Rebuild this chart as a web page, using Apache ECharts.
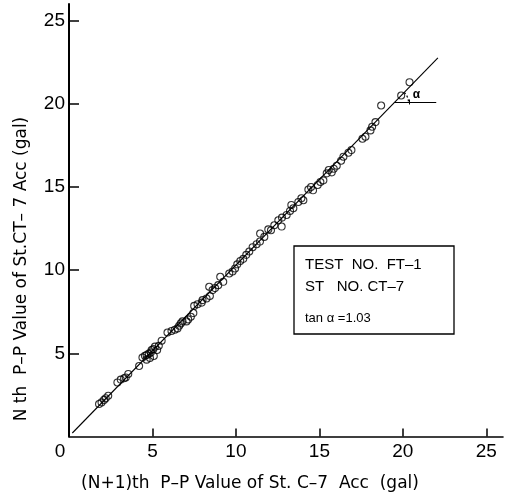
<!DOCTYPE html>
<html>
<head>
<meta charset="utf-8">
<script src="https://cdn.jsdelivr.net/npm/echarts@6/dist/echarts.min.js"></script>
<style>html,body{margin:0;padding:0;background:#fff}#c{width:508px;height:499px}</style>
</head>
<body>
<div id="c"></div>
<script>
// (N+1)th P-P value (x) vs Nth P-P value (y), gal
const pointsX = [1.8,1.95,2.1,2.2,2.35,2.9,3.1,3.3,3.4,3.55,4.2,4.4,4.55,4.65,4.78,4.9,4.95,5.05,5.15,4.85,4.65,5.08,5.28,5.38,5.55,5.9,6.14,6.34,6.5,6.6,6.7,6.8,7.04,7.14,7.3,7.45,7.5,7.7,7.95,8.0,8.24,8.44,8.4,8.6,8.75,8.94,9.06,9.24,9.6,9.8,9.95,10.08,10.26,10.44,10.62,10.8,11.0,11.24,11.44,11.45,11.7,11.94,12.1,12.3,12.54,12.74,12.76,13.04,13.24,13.32,13.44,13.74,13.92,14.04,14.34,14.5,14.62,14.9,15.06,15.24,15.44,15.56,15.74,15.86,16.04,16.3,16.44,16.74,16.92,17.58,17.76,18.06,18.16,18.36,18.7,19.9,20.4];
const pointsY = [1.95,2.05,2.2,2.3,2.45,3.25,3.42,3.5,3.55,3.76,4.24,4.75,4.85,4.9,4.98,5.05,5.2,5.25,5.4,4.72,4.62,4.84,5.2,5.45,5.76,6.25,6.34,6.42,6.5,6.66,6.8,6.92,6.92,7.04,7.2,7.42,7.85,7.95,8.05,8.2,8.3,8.45,9.0,8.8,8.92,9.1,9.6,9.3,9.8,9.92,10.1,10.35,10.55,10.68,10.92,11.12,11.38,11.56,11.72,12.2,12.0,12.45,12.4,12.7,13.0,12.62,13.16,13.32,13.56,13.92,13.72,14.1,14.32,14.2,14.85,15.0,14.8,15.12,15.3,15.4,15.82,16.02,15.88,16.1,16.28,16.58,16.82,17.06,17.22,17.9,18.02,18.4,18.62,18.9,19.9,20.5,21.3];
// fitted line (tan a = 1.03) and horizontal reference line
const fitLineX = [0.2, 22.1];
const fitLineY = [0.21, 22.76];
const refLineX = [19.5, 22.0];
const refLineY = [20.08, 20.08];
const xLabelValues = [0, 5, 10, 15, 20, 25];
const xTickValues = [5, 10, 15, 20, 25];
const yLabelValues = [5, 10, 15, 20, 25];
const yTickValues = [5, 10, 15, 20, 25];
const xTitle = '(N+1)th  P\u2013P Value of St. C\u20137  Acc  (gal)';
const yTitle = 'N th  P\u2013P Value of St.CT\u2013 7 Acc (gal)';
const boxLines = ['TEST  NO.  FT\u20131', 'ST   NO. CT\u20137', 'tan \u03b1 =1.03'];

const font = 'Liberation Sans, Arial, sans-serif';
const titleFont = 'DejaVu Sans, sans-serif';
const chart = echarts.init(document.getElementById('c'));
const pts = pointsX.map((x, i) => [x, pointsY[i]]);
const fit = fitLineX.map((x, i) => [x, fitLineY[i]]);
const ref = refLineX.map((x, i) => [x, refLineY[i]]);

chart.setOption({
  animation: false,
  backgroundColor: '#fff',
  grid: {left: 69, right: 5, top: 4, bottom: 62.5, containLabel: false},
  xAxis: {
    type: 'value', min: 0, max: 26,
    splitLine: {show: false},
    axisLine: {lineStyle: {color: '#000', width: 1.6}},
    axisTick: {inside: true, length: 8, customValues: xTickValues, lineStyle: {color: '#000', width: 1.5}},
    axisLabel: {
      customValues: xLabelValues, margin: 6, color: '#000', fontFamily: font, fontSize: 19,
      formatter: v => v === 0 ? '{o|0}' : String(v),
      rich: {o: {padding: [0, 18, 0, 0], fontSize: 19, fontFamily: font, color: '#000'}}
    }
  },
  yAxis: {
    type: 'value', min: 0, max: 26,
    splitLine: {show: false},
    axisLine: {lineStyle: {color: '#000', width: 2}},
    axisTick: {inside: true, length: 10, customValues: yTickValues, lineStyle: {color: '#000', width: 1.5}},
    axisLabel: {customValues: yLabelValues, margin: 4, color: '#000', fontFamily: font, fontSize: 19}
  },
  series: [
    {type: 'line', data: fit, symbol: 'none', lineStyle: {color: '#000', width: 1.1}, silent: true, z: 2},
    {type: 'line', data: ref, symbol: 'none', lineStyle: {color: '#000', width: 1.1}, silent: true, z: 2},
    {
      type: 'custom', data: [ref[0]], silent: true, z: 3,
      renderItem: function (params, api) {
        const c = api.coord([api.value(0), api.value(1)]);
        const ang = Math.atan(1.03);
        return {type: 'group', children: [
          {type: 'arc', shape: {cx: c[0], cy: c[1], r: 14, startAngle: -ang, endAngle: 0, clockwise: true},
           style: {stroke: '#000', fill: null, lineWidth: 1.2, lineDash: [2, 2]}},
          {type: 'line', shape: {x1: c[0] + 15, y1: c[1] - 3, x2: c[0] + 15, y2: c[1] + 2}, style: {stroke: '#000', lineWidth: 1}},
          {type: 'text', style: {x: c[0] + 22, y: c[1] - 8, text: '\u03b1', font: 'bold 12px ' + font, fill: '#000', align: 'center', verticalAlign: 'middle'}}
        ]};
      },
      encode: {x: 0, y: 1}
    },
    {type: 'scatter', data: pts, symbol: 'circle', symbolSize: 7,
     itemStyle: {color: 'rgba(255,255,255,0)', borderColor: '#000', borderWidth: 1.1}, z: 4}
  ],
  graphic: [
    {type: 'text', x: 22, y: 269, rotation: Math.PI / 2,
     style: {text: yTitle, font: '17px ' + titleFont, fill: '#000', align: 'center', verticalAlign: 'middle'}},
    {type: 'text', x: 250, y: 484,
     style: {text: xTitle, font: '17px ' + titleFont, fill: '#000', align: 'center', verticalAlign: 'middle'}},
    {type: 'rect', shape: {x: 294, y: 246, width: 160, height: 88}, style: {fill: '#fff', stroke: '#000', lineWidth: 1.3}},
    {type: 'text', x: 305, y: 265, style: {text: boxLines[0], font: '15px ' + font, fill: '#000', verticalAlign: 'middle'}},
    {type: 'text', x: 305, y: 287, style: {text: boxLines[1], font: '15px ' + font, fill: '#000', verticalAlign: 'middle'}},
    {type: 'text', x: 305, y: 318, style: {text: boxLines[2], font: '13px ' + font, fill: '#000', verticalAlign: 'middle'}}
  ]
});
</script>
</body>
</html>
